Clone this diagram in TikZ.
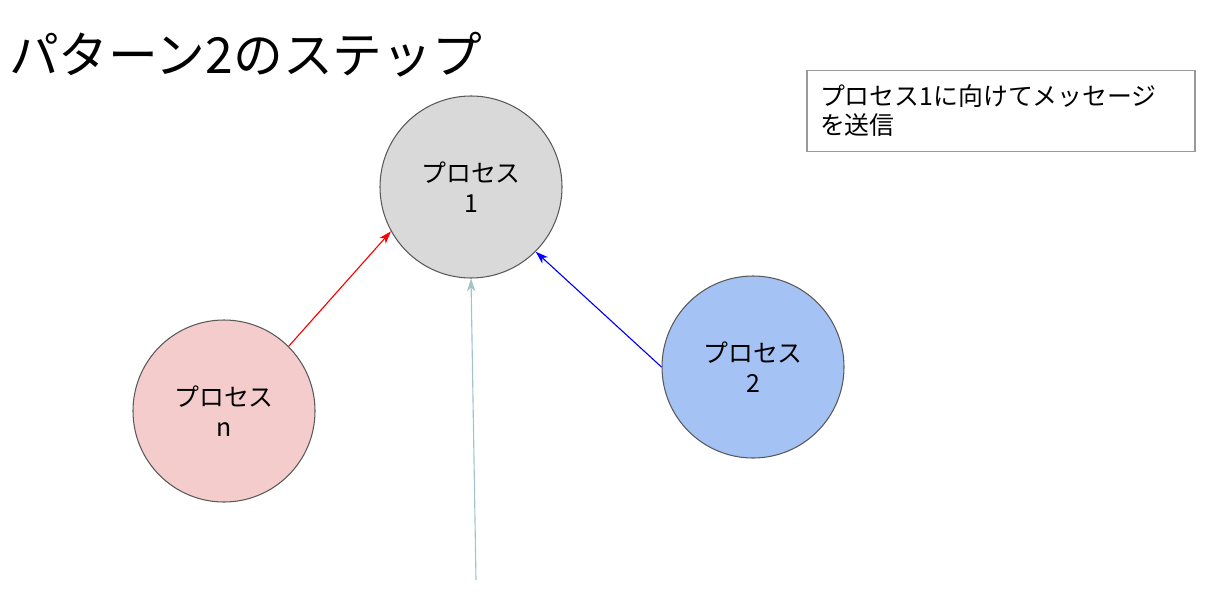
\documentclass[tikz,border=0pt]{standalone}
\usepackage{fontspec}
\setmainfont{Noto Sans CJK JP}
\usetikzlibrary{arrows.meta}

\definecolor{procgray}{HTML}{D9D9D9}
\definecolor{procred}{HTML}{F4CCCC}
\definecolor{procblue}{HTML}{A4C2F4}
\definecolor{edgegray}{HTML}{595959}
\definecolor{msggray}{HTML}{A2C4C9}

\tikzset{
    proc/.style={draw=edgegray, line width=0.75pt, circle, minimum size=4.55cm, align=center, inner sep=0pt,
        font=\fontsize{17.7}{21.3}\selectfont},
    msg/.style={-{Stealth[length=9pt, width=6pt, inset=2.5pt]}, line width=0.8pt}
}

\begin{document}
\begin{tikzpicture}
        \useasboundingbox (0,0) rectangle (30.425,15.025);

        % Title
        \node[anchor=west, inner sep=0pt, font=\fontsize{35.4}{40}\selectfont] (title) at (0.22,13.65) {パターン2のステップ};

        % Note box
        \node[draw=black!40, line width=0.8pt, minimum width=9.7cm, minimum height=2.025cm, text width=9.05cm,
              align=left, inner sep=0.32cm, font=\fontsize{17.7}{20.6}\selectfont] (note) at (25.025,12.26)
              {プロセス1に向けてメッセージ\\を送信};

        % Processes
        \node[proc, fill=procgray] (P1) at (11.775,10.35) {プロセス\\1};
        \node[proc, fill=procred]  (Pn) at (5.6,4.75)     {プロセス\\n};
        \node[proc, fill=procblue] (P2) at (18.825,5.85)  {プロセス\\2};

        % Messages towards process 1
        \coordinate (src) at (11.9,0.525);
        \draw[msg, red] (Pn.north east) -- (P1.209);
        \draw[msg, blue] (P2.west) -- (P1.south east);
        \draw[msg, msggray] (src) -- (P1.south);
    \end{tikzpicture}
\end{document}
